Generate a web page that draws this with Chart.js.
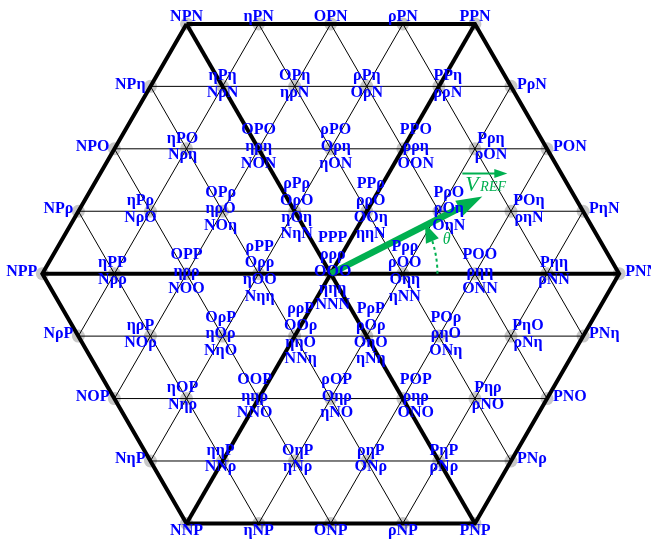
<!DOCTYPE html>
<html>
<head>
<meta charset="utf-8">
<script src="https://cdn.jsdelivr.net/npm/chart.js@4.4.0/dist/chart.umd.min.js"></script>
<style>
    html, body { margin: 0; padding: 0; background: #fff; }
    canvas { display: block; }
</style>
</head>
<body>
<canvas id="svChart" width="651" height="539"></canvas>
<script>
// voltage levels, lowest to highest
const levels = ['N', 'η', 'O', 'ρ', 'P'];

// switching states of every vector, top row of the hexagon first
// redundant states are listed top-down as in the figure
const row4 = ['NPN', 'ηPN', 'OPN', 'ρPN', 'PPN'];
const row3 = ['NPη', 'ηPη/NρN', 'OPη/ηρN', 'ρPη/OρN', 'PPη/ρρN', 'PρN'];
const row2 = ['NPO', 'ηPO/Nρη', 'OPO/ηρη/NON', 'ρPO/Oρη/ηON', 'PPO/ρρη/OON', 'Pρη/ρON', 'PON'];
const row1 = ['NPρ', 'ηPρ/NρO', 'OPρ/ηρO/NOη', 'ρPρ/OρO/ηOη/NηN', 'PPρ/ρρO/OOη/ηηN', 'PρO/ρOη/OηN', 'POη/ρηN', 'PηN'];
const row0 = ['NPP', 'ηPP/Nρρ', 'OPP/ηρρ/NOO', 'ρPP/Oρρ/ηOO/Nηη', 'PPP/ρρρ/OOO/ηηη/NNN', 'Pρρ/ρOO/Oηη/ηNN', 'POO/ρηη/ONN', 'Pηη/ρNN', 'PNN'];
const rowM1 = ['NρP', 'ηρP/NOρ', 'OρP/ηOρ/NηO', 'ρρP/OOρ/ηηO/NNη', 'PρP/ρOρ/OηO/ηNη', 'POρ/ρηO/ONη', 'PηO/ρNη', 'PNη'];
const rowM2 = ['NOP', 'ηOP/Nηρ', 'OOP/ηηρ/NNO', 'ρOP/Oηρ/ηNO', 'POP/ρηρ/ONO', 'Pηρ/ρNO', 'PNO'];
const rowM3 = ['NηP', 'ηηP/NNρ', 'OηP/ηNρ', 'ρηP/ONρ', 'PηP/ρNρ', 'PNρ'];
const rowM4 = ['NNP', 'ηNP', 'ONP', 'ρNP', 'PNP'];

// reference vector: length in level steps, angle in degrees
const vrefLength = 2.36;
const vrefAngle = 27;

const SQ3 = Math.sqrt(3);
const GREEN = '#00b050';
const BLUE = '#0000ff';

// hand placed label stacks in the figure: sideways shift in px
const labelNudge = {
    'PPη': 9, 'ηPO': -4, 'ρPO': 5, 'PPO': 13, 'Pρη': 16,
    'ηPρ': -10, 'OPρ': -2, 'ρPρ': 2, 'PPρ': 4, 'PρO': 10, 'POη': 18,
    'ηPP': -2, 'ρPP': 1, 'PPP': 2, 'Pρρ': 2, 'POO': 5, 'Pηη': 7,
    'ηρP': -10, 'OρP': -2, 'ρρP': 6, 'PρP': 4, 'POρ': 7, 'PηO': 17,
    'ηOP': -4, 'OOP': -4, 'ρOP': 6, 'POP': 13, 'Pηρ': 13,
    'ηηP': -2, 'OηP': 3, 'ρηP': 4, 'PηP': 5
};

// space vector of a state: a + b*e^(j120) + c*e^(j240)
function toVector(state) {
    const [a, b, c] = Array.from(state).map(ch => levels.indexOf(ch));
    return { a: a, b: b, c: c, x: a - (b + c) / 2, y: (b - c) * SQ3 / 2 };
}

const nodes = [row4, row3, row2, row1, row0, rowM1, rowM2, rowM3, rowM4]
    .flat()
    .map(function(entry) {
        const states = entry.split('/');
        return Object.assign(toVector(states[0]), { states: states });
    });

function nodeOf(name) {
    return nodes.find(n => n.states.includes(name));
}

// thin grid lines in the three directions
const families = [
    { key: n => n.b - n.c, dir: [1, 0] },
    { key: n => n.a - n.b, dir: [0.5, SQ3 / 2] },
    { key: n => n.c - n.a, dir: [0.5, -SQ3 / 2] }
];
const gridLines = [];
families.forEach(function(f) {
    const groups = {};
    nodes.forEach(function(n) {
        const k = f.key(n);
        (groups[k] = groups[k] || []).push(n);
    });
    Object.values(groups).forEach(function(g) {
        if (g.length < 2) return;
        const proj = n => n.x * f.dir[0] + n.y * f.dir[1];
        g.sort((p, q) => proj(p) - proj(q));
        gridLines.push([g[0], g[g.length - 1]]);
    });
});

// thick lines: hexagon outline and the three main diagonals
const hexagon = ['NPN', 'PPN', 'PNN', 'PNP', 'NNP', 'NPP', 'NPN'].map(nodeOf);
const diagonals = [['NPP', 'PNN'], ['NPN', 'PNP'], ['PPN', 'NNP']].map(p => p.map(nodeOf));

const pt = n => ({ x: n.x, y: n.y });
const rad = vrefAngle * Math.PI / 180;
const shaftLen = vrefLength - 0.3;

const datasets = [];
datasets.push({
    data: nodes.map(pt),
    pointStyle: 'circle',
    pointRadius: 6.5,
    backgroundColor: '#c8c8c8',
    borderColor: '#c8c8c8',
    pointBackgroundColor: '#c8c8c8',
    pointBorderWidth: 0,
    order: 10
});
gridLines.forEach(function(l) {
    datasets.push({
        data: l.map(pt),
        showLine: true,
        borderColor: '#000',
        borderWidth: 1,
        pointRadius: 0,
        order: 6
    });
});
[hexagon].concat(diagonals).forEach(function(l) {
    datasets.push({
        data: l.map(pt),
        showLine: true,
        borderColor: '#000',
        borderWidth: 4,
        borderJoinStyle: 'miter',
        pointRadius: 0,
        order: 4
    });
});
// vref shaft, the head is drawn by the plugin
datasets.push({
    data: [{ x: 0, y: 0 }, { x: shaftLen * Math.cos(rad), y: shaftLen * Math.sin(rad) }],
    showLine: true,
    borderColor: GREEN,
    borderWidth: 6.5,
    pointRadius: 0,
    order: 1
});

function arrowHead(ctx, tx, ty, ang, len, half) {
    // ang is the screen direction the head points to
    const bx = tx - len * Math.cos(ang), by = ty - len * Math.sin(ang);
    const nx = -Math.sin(ang) * half, ny = Math.cos(ang) * half;
    ctx.beginPath();
    ctx.moveTo(tx, ty);
    ctx.lineTo(bx + nx, by + ny);
    ctx.lineTo(bx - nx, by - ny);
    ctx.closePath();
    ctx.fill();
}

const labelPlugin = {
    id: 'stateLabels',
    afterDatasetsDraw: function(chart) {
        const ctx = chart.ctx;
        const xs = chart.scales.x, ys = chart.scales.y;
        const cx = xs.getPixelForValue(0), cy = ys.getPixelForValue(0);
        const ppu = xs.getPixelForValue(1) - cx;

        ctx.save();
        // vref head
        const tipX = xs.getPixelForValue(vrefLength * Math.cos(rad));
        const tipY = ys.getPixelForValue(vrefLength * Math.sin(rad));
        ctx.fillStyle = GREEN;
        arrowHead(ctx, tipX, tipY, -rad, 26, 8.5);

        // theta arc, dashed, with a head at the end
        const r = 1.48 * ppu;
        const a0 = 18 * Math.PI / 180, a1 = 28 * Math.PI / 180;
        ctx.strokeStyle = GREEN;
        ctx.lineWidth = 2;
        ctx.setLineDash([3, 3]);
        ctx.beginPath();
        ctx.arc(cx, cy, r, 0, -a0, true);
        ctx.stroke();
        ctx.setLineDash([]);
        const hx = cx + r * Math.cos(a1), hy = cy - r * Math.sin(a1);
        const bx = cx + r * Math.cos(a0), by = cy - r * Math.sin(a0);
        arrowHead(ctx, hx, hy, Math.atan2(hy - by, hx - bx), 19, 7);

        ctx.font = 'italic 16px "Liberation Serif"';
        ctx.textAlign = 'center';
        ctx.textBaseline = 'middle';
        ctx.fillText('θ', cx + 116, cy - 34);

        // V_REF label with the vector arrow above it
        ctx.textAlign = 'left';
        ctx.textBaseline = 'alphabetic';
        ctx.font = 'italic 22px "Liberation Serif"';
        ctx.fillText('V', tipX - 17, tipY - 5);
        ctx.font = 'italic 14px "Liberation Serif"';
        ctx.fillText('REF', tipX - 2, tipY - 5);
        ctx.lineWidth = 2;
        ctx.beginPath();
        ctx.moveTo(tipX - 20, tipY - 23);
        ctx.lineTo(tipX + 15, tipY - 23);
        ctx.stroke();
        arrowHead(ctx, tipX + 25, tipY - 23, 0, 13, 4.5);

        // state names
        const top = 4 * SQ3 / 2 - 1e-6;
        ctx.fillStyle = BLUE;
        ctx.font = 'bold 16px "Liberation Serif"';
        nodes.forEach(function(n) {
            const px = xs.getPixelForValue(n.x), py = ys.getPixelForValue(n.y);
            if (n.states.length === 1) {
                // outer ring, name sits outside the hexagon
                if (n.y > top) {
                    ctx.textAlign = 'center';
                    ctx.textBaseline = 'alphabetic';
                    ctx.fillText(n.states[0], px, py - 3);
                } else if (n.y < -top) {
                    ctx.textAlign = 'center';
                    ctx.textBaseline = 'alphabetic';
                    ctx.fillText(n.states[0], px, py + 12);
                } else {
                    ctx.textAlign = n.x < 0 ? 'right' : 'left';
                    ctx.textBaseline = 'middle';
                    ctx.fillText(n.states[0], n.x < 0 ? px - 5 : px + 6, py - 2);
                }
                return;
            }
            ctx.textAlign = 'center';
            ctx.textBaseline = 'middle';
            const mid = (n.states.length - 1) / 2;
            const lx = px + (labelNudge[n.states[0]] || 0);
            n.states.forEach(function(s, i) {
                ctx.fillText(s, lx, py - 2 + (i - mid) * 16.7);
            });
        });
        ctx.restore();
    }
};

const ctx = document.getElementById('svChart').getContext('2d');
const svChart = new Chart(ctx, {
    type: 'scatter',
    data: { datasets: datasets },
    options: {
        responsive: false,
        animation: false,
        events: [],
        layout: { padding: 0, autoPadding: false },
        scales: {
            x: { type: 'linear', min: -4.587, max: 4.442, display: false },
            y: { type: 'linear', min: -3.680, max: 3.796, display: false }
        },
        plugins: {
            legend: { display: false },
            tooltip: { enabled: false }
        }
    },
    plugins: [labelPlugin]
});
</script>
</body>
</html>
